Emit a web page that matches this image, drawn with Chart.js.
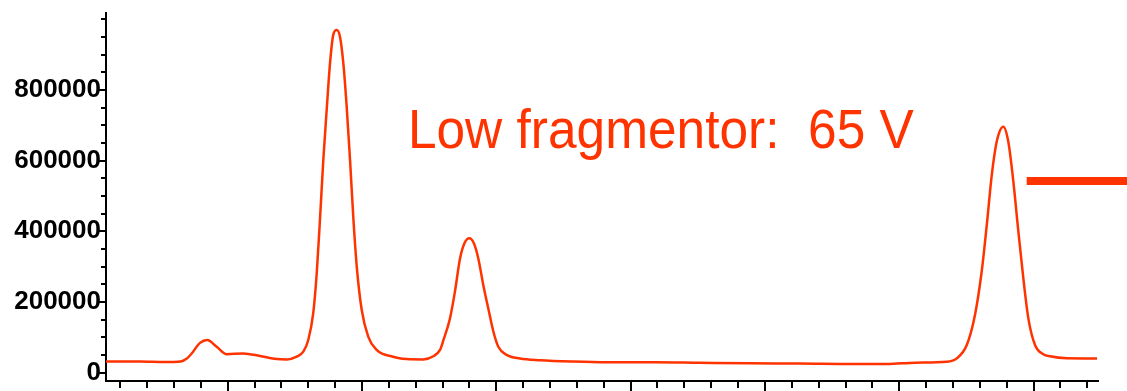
<!DOCTYPE html>
<html>
<head>
<meta charset="utf-8">
<script src="https://cdn.jsdelivr.net/npm/chart.js@4"></script>
<style>
  html, body { margin: 0; padding: 0; background: #fff; }
  #wrap { width: 1127px; height: 391px; }
</style>
</head>
<body>
<div id="wrap"><canvas id="myChart"></canvas></div>
<script>
// retention time (min) and detector signal
const times = [1.094, 1.35, 1.53, 1.65, 1.69, 1.732, 1.794, 1.848, 1.918, 1.993,
  2.116, 2.24, 2.365, 2.44, 2.514, 2.563, 2.6, 2.637, 2.663, 2.687,
  2.712, 2.737, 2.762, 2.786, 2.812, 2.836, 2.861, 2.886, 2.911, 2.935,
  2.961, 2.998, 3.047, 3.109, 3.159, 3.21, 3.27, 3.333, 3.456, 3.531, 3.581,
  3.605, 3.655, 3.692, 3.73, 3.763, 3.799, 3.833, 3.866, 3.903, 3.94,
  3.978, 4.015, 4.077, 4.176, 4.325, 4.573, 4.822, 5.182, 5.517, 5.889,
  6.261, 6.656, 6.909, 7.118, 7.354, 7.428, 7.503, 7.564, 7.614, 7.652,
  7.689, 7.726, 7.775, 7.812, 7.85, 7.887, 7.924, 7.961, 8.011, 8.073,
  8.123, 8.247, 8.473]
const signal = [31000, 31000, 29500, 31000, 38000, 54000, 84000, 92000, 73000, 52000,
  54000, 47000, 38000, 37000, 45000, 59000, 92000, 168000, 281000, 432000,
  602000, 743000, 876000, 956000, 970000, 951000, 876000, 753000, 602000, 441000,
  300000, 177000, 101000, 64000, 52000, 47000, 41000, 38000, 37000, 46000, 64000,
  90000, 153000, 229000, 323000, 366000, 380000, 366000, 323000, 248000, 182000,
  116000, 73000, 50000, 40000, 35000, 31000, 29000, 29000, 27500, 26000,
  25500, 24000, 24000, 28000, 30500, 40000, 78000, 163000, 286000, 418000,
  559000, 654000, 696000, 654000, 540000, 399000, 267000, 154000, 78000, 52000,
  46000, 40500, 40000]

// legend bar on the right
const markerTimes = [7.949, 8.7]
const markerLevel = [542000, 542000]

// axis ticks
const yLabels = [0, 200000, 400000, 600000, 800000]
const yMinorStep = 50000
const yTickTop = 1000000
const xMajor = [2, 3, 4, 5, 6, 7, 8]
const xMinorStep = 0.2
const xTickFirst = 1.2
const xTickLast = 8.4

const noteText = 'Low fragmentor:  65 V'
const noteAt = { x: 3.342, y: 636600 }

const red = 'rgb(255, 51, 0)'

const tickMarks = {
  id: 'tickMarks',
  afterDraw(chart) {
    const ctx = chart.ctx
    const xs = chart.scales.x
    const ys = chart.scales.y
    const area = chart.chartArea
    ctx.save()
    ctx.strokeStyle = '#000'
    ctx.lineWidth = 2
    ctx.beginPath()
    ys.ticks.forEach(t => {
      const py = Math.round(ys.getPixelForValue(t.value))
      const len = yLabels.includes(t.value) ? 8 : 5
      ctx.moveTo(area.left - len, py)
      ctx.lineTo(area.left, py)
    })
    xs.ticks.forEach(t => {
      const px = Math.round(xs.getPixelForValue(t.value))
      const major = xMajor.some(m => Math.abs(m - t.value) < 1e-6)
      ctx.moveTo(px, area.bottom)
      ctx.lineTo(px, area.bottom + (major ? 11 : 7))
    })
    ctx.stroke()

    // annotation text
    ctx.fillStyle = red
    ctx.font = '55px "Liberation Sans", Arial, sans-serif'
    ctx.textAlign = 'left'
    ctx.textBaseline = 'alphabetic'
    ctx.translate(xs.getPixelForValue(noteAt.x), ys.getPixelForValue(noteAt.y))
    ctx.scale(0.935, 1)
    ctx.fillText(noteText, 0, 0)
    ctx.restore()
  }
}

const ctx = document.getElementById('myChart').getContext('2d')
const myChart = new Chart(ctx, {
  type: 'line',
  data: {
    datasets: [{
      data: times.map((t, i) => ({ x: t, y: signal[i] })),
      borderColor: red,
      borderWidth: 2.5,
      pointRadius: 0,
      cubicInterpolationMode: 'monotone'
    }, {
      data: markerTimes.map((t, i) => ({ x: t, y: markerLevel[i] })),
      borderColor: red,
      borderWidth: 8,
      borderCapStyle: 'butt',
      pointRadius: 0,
      clip: false
    }]
  },
  options: {
    responsive: true,
    maintainAspectRatio: false,
    animation: false,
    layout: { padding: { top: 13, right: 29, bottom: 0, left: 0 } },
    plugins: {
      legend: { display: false },
      tooltip: { enabled: false }
    },
    scales: {
      x: {
        type: 'linear',
        min: 1.094,
        max: 8.48,
        grid: { display: false, drawTicks: false },
        border: { display: true, color: '#000', width: 2 },
        ticks: { display: false },
        afterBuildTicks(scale) {
          const list = []
          for (let i = 0; xTickFirst + i * xMinorStep <= xTickLast + 1e-9; i++) {
            list.push({ value: Math.round((xTickFirst + i * xMinorStep) * 10) / 10 })
          }
          scale.ticks = list
        },
        afterFit(scale) { scale.height = 10; scale.paddingLeft = 0; scale.paddingRight = 0 }
      },
      y: {
        min: -24000,
        max: 1018000,
        grid: { display: false, drawTicks: false },
        border: { display: true, color: '#000', width: 2 },
        ticks: {
          autoSkip: false,
          padding: 5,
          color: '#000',
          font: { family: '"Liberation Sans", Arial, sans-serif', size: 26, weight: 'bold' },
          callback: v => yLabels.includes(v) ? String(v) : ''
        },
        afterBuildTicks(scale) {
          const list = []
          for (let v = 0; v <= yTickTop; v += yMinorStep) list.push({ value: v })
          scale.ticks = list
        },
        afterFit(scale) { scale.width = 106; scale.paddingTop = 0; scale.paddingBottom = 0 }
      }
    }
  },
  plugins: [tickMarks]
})
</script>
</body>
</html>
